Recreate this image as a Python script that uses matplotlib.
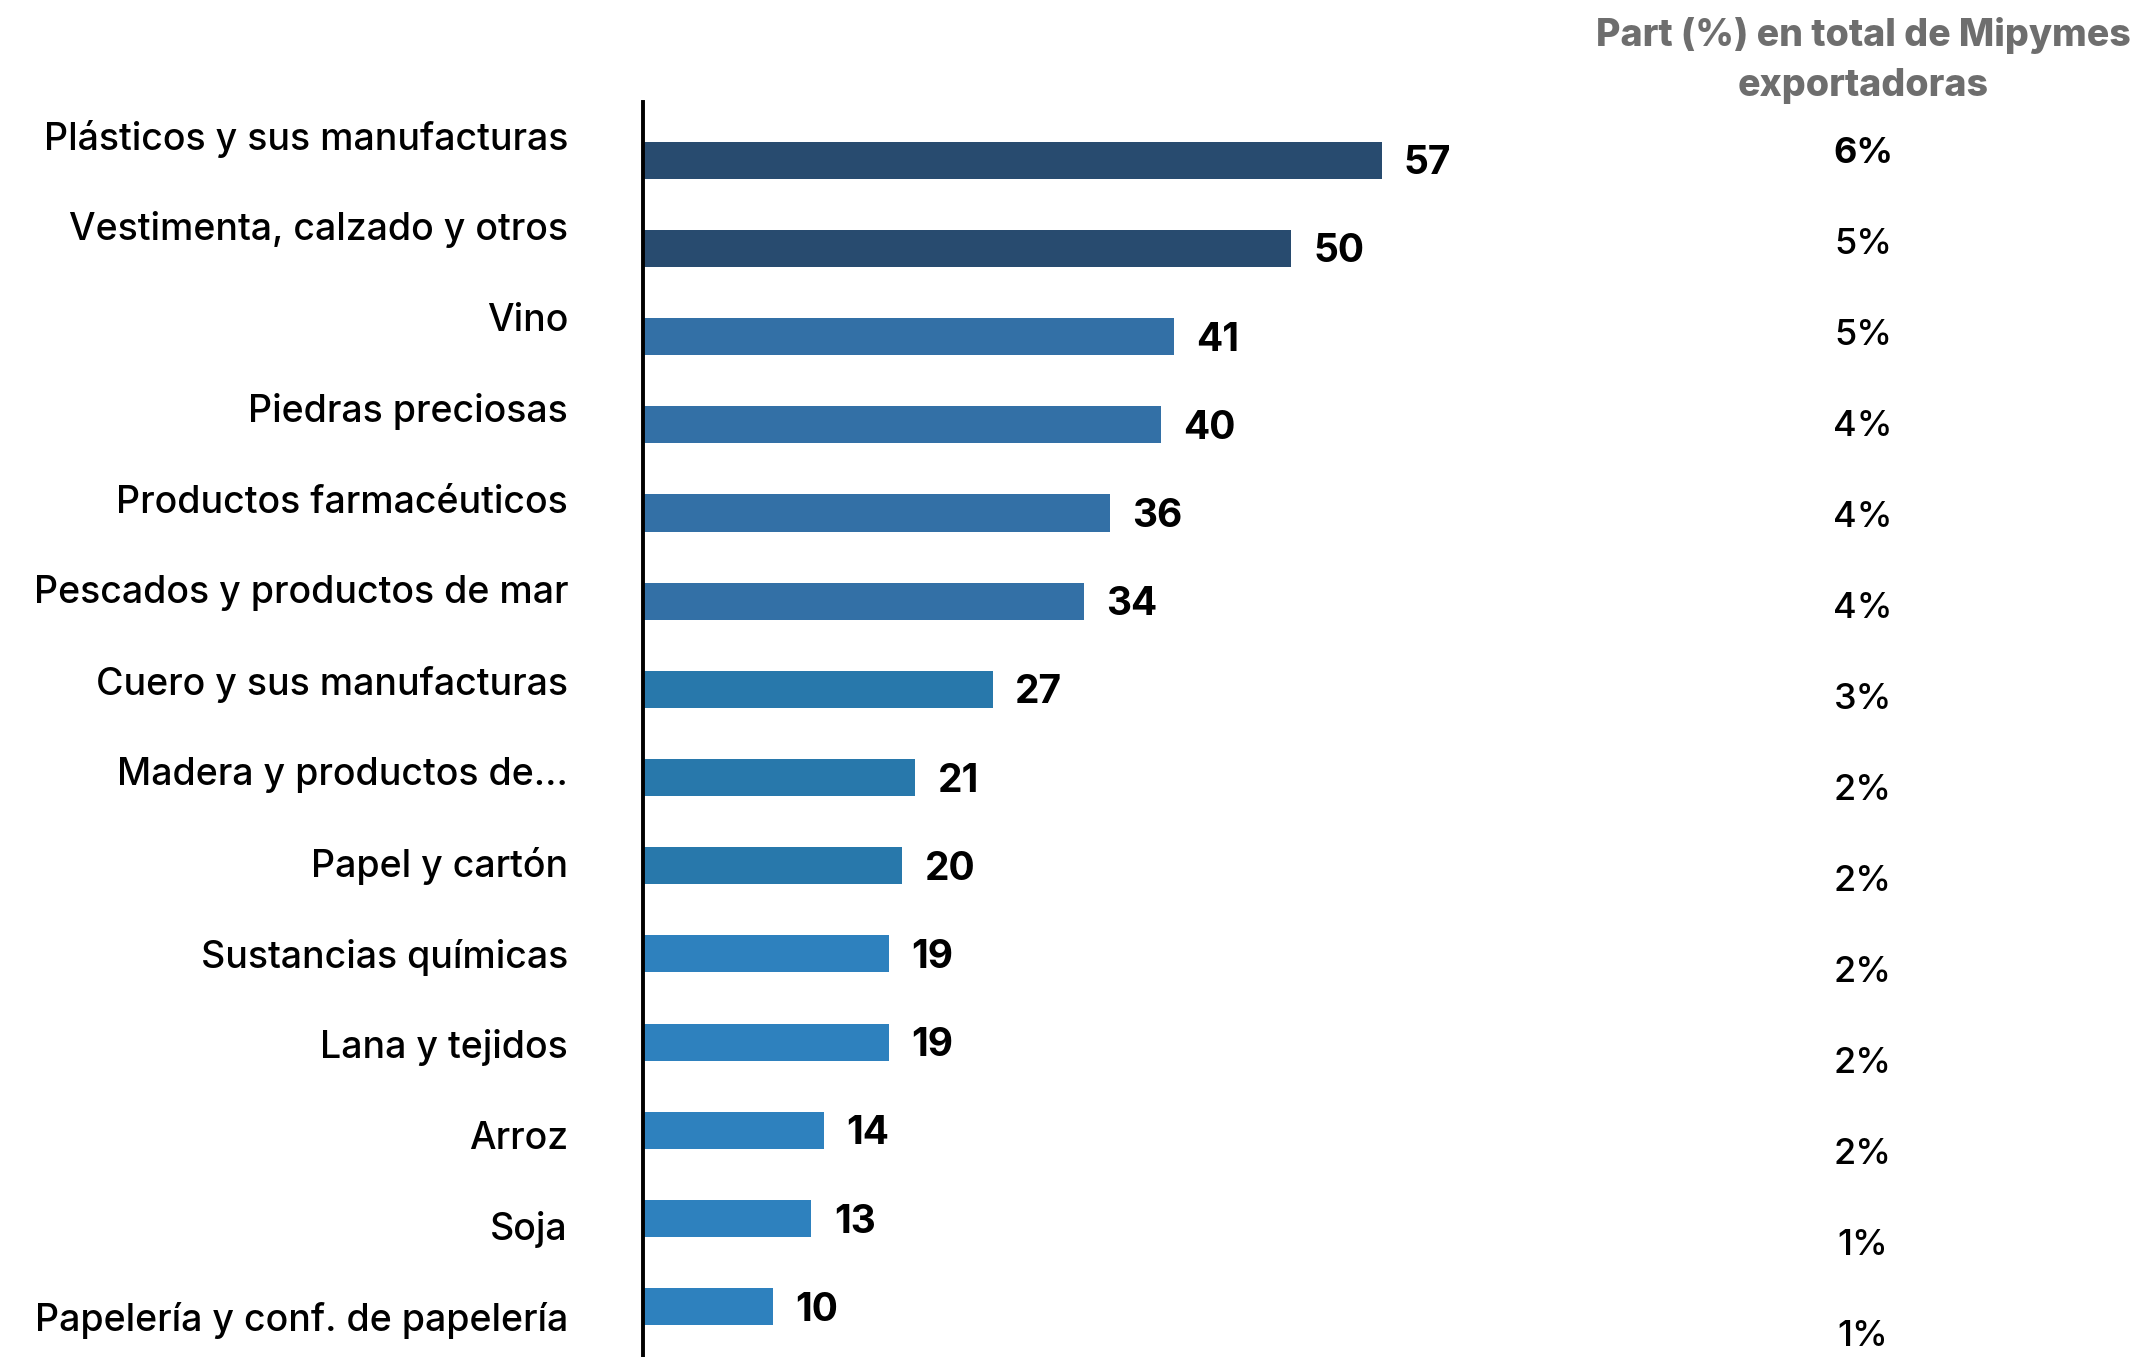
import matplotlib
matplotlib.use("Agg")
import matplotlib.pyplot as plt
from matplotlib.transforms import blended_transform_factory

# Sectors exporting, number of exporting MSMEs and share in total
categories = [
    "Plásticos y sus manufacturas",
    "Vestimenta, calzado y otros",
    "Vino",
    "Piedras preciosas",
    "Productos farmacéuticos",
    "Pescados y productos de mar",
    "Cuero y sus manufacturas",
    "Madera y productos de...",
    "Papel y cartón",
    "Sustancias químicas",
    "Lana y tejidos",
    "Arroz",
    "Soja",
    "Papelería y conf. de papelería",
]
empresas = [57, 50, 41, 40, 36, 34, 27, 21, 20, 19, 19, 14, 13, 10]
participacion = ["6%", "5%", "5%", "4%", "4%", "4%", "3%", "2%", "2%", "2%", "2%", "2%", "1%", "1%"]
header = "Part (%) en total de Mipymes\nexportadoras"

# Bar colour groups
NAVY = "#284B6F"
BLUE1 = "#3370A6"
BLUE2 = "#2878AB"
BLUE3 = "#2E81BE"
colors = [NAVY] * 2 + [BLUE1] * 4 + [BLUE2] * 3 + [BLUE3] * 5

FONT = "Inter"
W, H = 2139, 1357
fig = plt.figure(figsize=(W / 100, H / 100), dpi=100)
fig.patch.set_facecolor("white")

ax_left, ax_top = 643, 102
ax = fig.add_axes([ax_left / W, 0, (W - ax_left) / W, (H - ax_top) / H])

n = len(categories)
ypos = list(range(n))
ax.barh(ypos, empresas, height=0.42, color=colors, zorder=2)

px_per_unit = 12.96
ax.set_xlim(0, (W - ax_left) / px_per_unit)
ax.set_ylim(13.57, -0.66)

for sp in ["top", "right", "bottom"]:
    ax.spines[sp].set_visible(False)
ax.spines["left"].set_linewidth(2.8)
ax.spines["left"].set_color("black")
ax.set_xticks([])

# category labels run on their own slightly wider rhythm
label_pos = [-0.286 + 1.0306 * i for i in ypos]
ax.set_yticks(label_pos)
ax.set_yticklabels(categories, fontfamily=FONT, fontsize=27, fontweight="medium", color="black")
ax.tick_params(axis="y", length=0, pad=54)

# value labels next to bars
for y, v in zip(ypos, empresas):
    ax.annotate(str(v), (v, y), xytext=(16, -2.5), textcoords="offset points",
                ha="left", va="center", fontfamily=FONT, fontsize=28,
                fontweight="bold", color="black")

# share column
trans = blended_transform_factory(ax.transAxes, ax.transData)
col_x = (1863 - ax_left) / (W - ax_left)
for i, p in enumerate(participacion):
    y = -0.08 + 1.0317 * i
    ax.text(col_x, y, p, transform=trans, ha="center", va="center",
            fontfamily=FONT, fontsize=26,
            fontweight="bold" if i == 0 else "medium", color="black", clip_on=False)

fig.text(1863 / W, 1 - 61 / H, header, ha="center", va="center",
         fontfamily=FONT, fontsize=27, fontweight="heavy", color="#6E6E6E",
         linespacing=1.5)

fig.savefig("out.png", dpi=100, facecolor="white")
